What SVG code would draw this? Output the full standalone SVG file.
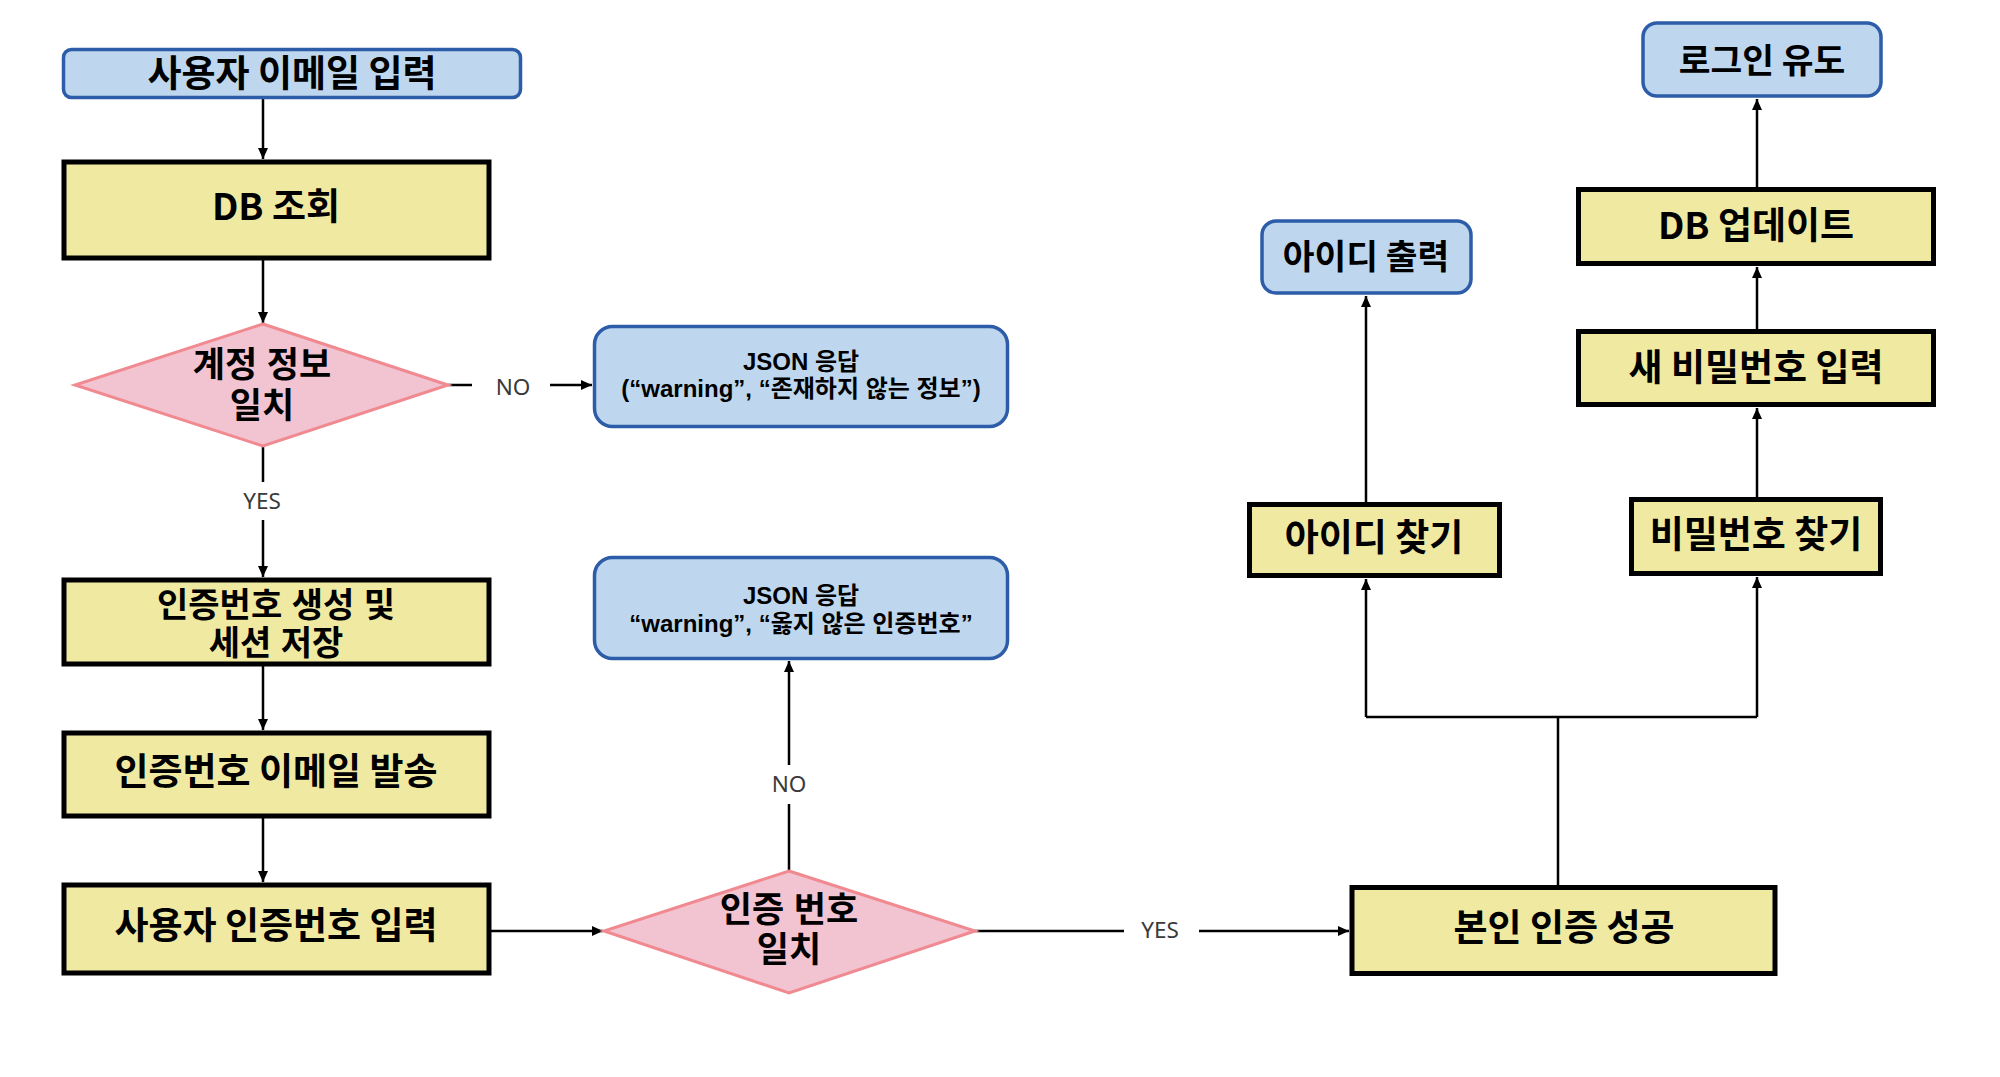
<svg xmlns="http://www.w3.org/2000/svg" width="2000" height="1077" viewBox="0 0 2000 1077">
<style>
.proc{fill:#F0E9A2;stroke:#000;stroke-width:5}
.term{fill:#BED7EE;stroke:#2D5DA8;stroke-width:3.5}
.dec{fill:#F2C3D0;stroke:#F08A90;stroke-width:3}
.con{fill:none;stroke:#000;stroke-width:2.5}
text{font-family:"Noto Sans CJK KR","Noto Sans",sans-serif;font-weight:700;fill:#000;text-anchor:middle;dominant-baseline:central}
text.ml{font-family:"Liberation Sans","Noto Sans CJK KR",sans-serif;dominant-baseline:auto}
.tb{font-size:37px}
.t1{font-size:37px}
.tt{font-size:34.5px}
.t2{font-size:35px}
.t3{font-size:34px}
.tj{font-size:24px}
.lbl{font-family:"Noto Sans","Liberation Sans",sans-serif;font-weight:400;font-size:22.5px;fill:#3a3a3a}
</style>
<defs>
<marker id="arr" markerUnits="userSpaceOnUse" markerWidth="12" markerHeight="10" refX="11" refY="5" orient="auto">
<path d="M0,0 L11,5 L0,10 z" fill="#000"/>
</marker>
</defs>
<g id="connectors">
<path class="con" d="M263,99 V159" marker-end="url(#arr)"/>
<path class="con" d="M263,258 V323" marker-end="url(#arr)"/>
<path class="con" d="M448,385 H472"/>
<path class="con" d="M550,385 H592" marker-end="url(#arr)"/>
<path class="con" d="M263,446 V482"/>
<path class="con" d="M263,520 V577" marker-end="url(#arr)"/>
<path class="con" d="M263,666 V730" marker-end="url(#arr)"/>
<path class="con" d="M263,818 V882" marker-end="url(#arr)"/>
<path class="con" d="M491,931 H603" marker-end="url(#arr)"/>
<path class="con" d="M789,871 V804"/>
<path class="con" d="M789,765 V661" marker-end="url(#arr)"/>
<path class="con" d="M975,931 H1124"/>
<path class="con" d="M1199,931 H1349" marker-end="url(#arr)"/>
<path class="con" d="M1558,885 V717"/>
<path class="con" d="M1366,717 H1757"/>
<path class="con" d="M1366,717 V579" marker-end="url(#arr)"/>
<path class="con" d="M1757,717 V577" marker-end="url(#arr)"/>
<path class="con" d="M1366,502 V296" marker-end="url(#arr)"/>
<path class="con" d="M1757,497 V408" marker-end="url(#arr)"/>
<path class="con" d="M1757,329 V267" marker-end="url(#arr)"/>
<path class="con" d="M1757,187 V99" marker-end="url(#arr)"/>
<text class="lbl" x="513" y="386">NO</text>
<text class="lbl" x="262" y="500">YES</text>
<text class="lbl" x="789" y="783">NO</text>
<text class="lbl" x="1160" y="929">YES</text>
</g>
<g id="n_email_input">
<rect class="term" x="63.5" y="49.5" width="457" height="48" rx="8"/>
<text class="t1" x="292" y="70.5">사용자 이메일 입력</text>
</g>
<g id="n_db_query">
<rect class="proc" x="64" y="162" width="425" height="96"/>
<text class="tb" x="276" y="204">DB 조회</text>
</g>
<g id="n_account_match">
<polygon class="dec" points="263,324 448,385 263,446 75,385"/>
<text class="t2 ml" x="262" y="376.5">계정 정보<tspan x="262" dy="41">일치</tspan></text>
</g>
<g id="n_json_nouser">
<rect class="term" x="594.5" y="326.5" width="413" height="100" rx="18"/>
<text class="tj ml" x="801" y="370">JSON 응답<tspan x="801" dy="27">(“warning”, “존재하지 않는 정보”)</tspan></text>
</g>
<g id="n_code_gen">
<rect class="proc" x="64" y="580" width="425" height="84"/>
<text class="t3 ml" x="276" y="616.5">인증번호 생성 및<tspan x="276" dy="38">세션 저장</tspan></text>
</g>
<g id="n_code_mail">
<rect class="proc" x="64" y="733" width="425" height="83"/>
<text class="tb" x="276" y="768.5">인증번호 이메일 발송</text>
</g>
<g id="n_code_input">
<rect class="proc" x="64" y="885" width="425" height="88"/>
<text class="tb" x="276" y="922.5">사용자 인증번호 입력</text>
</g>
<g id="n_code_match">
<polygon class="dec" points="789,871 975,931 789,993 604,931"/>
<text class="t2 ml" x="789" y="922">인증 번호<tspan x="789" dy="40">일치</tspan></text>
</g>
<g id="n_json_badcode">
<rect class="term" x="594.5" y="557.5" width="413" height="101" rx="18"/>
<text class="tj ml" x="801" y="603.5">JSON 응답<tspan x="801" dy="28">“warning”, “옳지 않은 인증번호”</tspan></text>
</g>
<g id="n_auth_ok">
<rect class="proc" x="1352" y="887.5" width="423" height="86"/>
<text class="tb" x="1564" y="925">본인 인증 성공</text>
</g>
<g id="n_find_id">
<rect class="proc" x="1249.5" y="504.5" width="250" height="71"/>
<text class="tb" x="1374" y="535">아이디 찾기</text>
</g>
<g id="n_find_pw">
<rect class="proc" x="1631.5" y="499.5" width="249" height="74"/>
<text class="tb" x="1756" y="532">비밀번호 찾기</text>
</g>
<g id="n_id_out">
<rect class="term" x="1262" y="221" width="209" height="72" rx="14"/>
<text class="tt" x="1366" y="253.5">아이디 출력</text>
</g>
<g id="n_new_pw">
<rect class="proc" x="1578.5" y="331.5" width="355" height="73"/>
<text class="tb" x="1756" y="364.5">새 비밀번호 입력</text>
</g>
<g id="n_db_update">
<rect class="proc" x="1578.5" y="189.5" width="355" height="74"/>
<text class="tb" x="1756" y="222.5">DB 업데이트</text>
</g>
<g id="n_login">
<rect class="term" x="1643" y="23" width="238" height="73" rx="14"/>
<text class="tt" x="1762" y="57.5">로그인 유도</text>
</g>
</svg>
